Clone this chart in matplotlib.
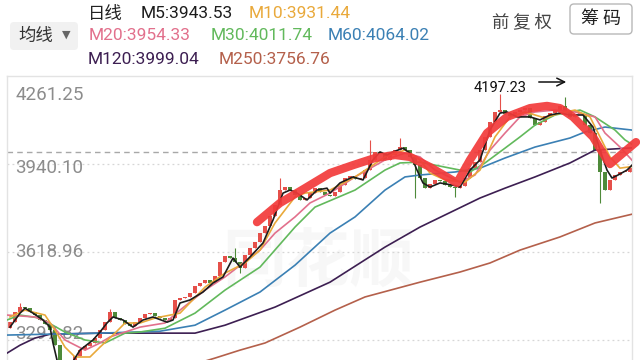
import matplotlib.pyplot as plt
from matplotlib.patches import FancyBboxPatch

plt.rcParams['font.family'] = ['Roboto', 'Noto Sans CJK SC', 'DejaVu Sans']

# daily closes (one per candle)
closes = [3363, 3400, 3418, 3414, 3400, 3389, 3371, 3356, 3334, 3279,
          3217, 3195, 3217, 3239, 3261, 3276, 3287, 3305, 3334, 3363,
          3400, 3378, 3371, 3356, 3349, 3363, 3378, 3392, 3396, 3385,
          3378, 3371, 3378, 3444, 3451, 3455, 3469, 3495, 3506, 3517,
          3506, 3531, 3582, 3604, 3597, 3582, 3560, 3608, 3633, 3655,
          3688, 3714, 3750, 3790, 3845, 3856, 3845, 3827, 3809, 3816,
          3834, 3852, 3838, 3827, 3823, 3838, 3863, 3889, 3896, 3885,
          3889, 3918, 3955, 3984, 3980, 3955, 3973, 3991, 4002, 3991,
          3966, 3936, 3889, 3852, 3867, 3882, 3878, 3863, 3856, 3852,
          3860, 3889, 3925, 3947, 3991, 4039, 4093, 4130, 4137, 4123,
          4115, 4130, 4137, 4144, 4108, 4082, 4093, 4115, 4126, 4137,
          4152, 4130, 4112, 4123, 4123, 4082, 4053, 3991, 3911, 3845,
          3882, 3900, 3911, 3911, 3925]
first_open = 3340
spike_hi = {2: 3433, 20: 3411, 45: 3633, 54: 3889, 72: 4028, 78: 4035,
            98: 4197.23, 111: 4185}
spike_lo = {46: 3542, 81: 3816, 89: 3820, 118: 3798, 119: 3852}

# moving averages, sampled along each line
m5_x = [0, 2, 3, 4.6, 6.6, 8, 8.6, 9.4, 10.4, 12, 14, 16.6, 18, 19.4, 20.6,
        22.6, 24.6, 26.6, 28.6, 31.4, 32.6, 34, 36, 38.6, 40.6, 42.6, 44.6,
        46, 48, 50.6, 52.6, 54.6, 56, 57.4, 59.4, 61.4, 63.4, 64, 66, 68.6,
        70.6, 72.6, 74, 75.4, 76.6, 78.6, 80, 81.4, 82.6, 84, 86, 88.6, 90,
        92, 94, 96, 98, 99.4, 101.4, 104, 106, 108, 110, 112, 114.6, 116.6,
        118, 119.4, 120.4, 121.6, 123.4, 124.4]
m5_v = [3345, 3396, 3414, 3396, 3371, 3345, 3287, 3225, 3195, 3203, 3261,
        3298, 3327, 3360, 3382, 3371, 3345, 3371, 3382, 3363, 3371, 3433,
        3444, 3473, 3506, 3528, 3597, 3564, 3601, 3652, 3736, 3834, 3845,
        3834, 3809, 3845, 3852, 3834, 3871, 3893, 3882, 3955, 3984, 3973,
        3984, 3998, 3980, 3918, 3871, 3856, 3871, 3863, 3856, 3918, 3955,
        4064, 4126, 4130, 4112, 4112, 4101, 4119, 4126, 4119, 4119, 4075,
        3991, 3918, 3889, 3900, 3918, 3936]
m10_x = [0, 3, 7, 9, 11, 13, 16, 18, 21, 23, 26, 29, 34, 39, 43, 47, 50, 53,
         57, 59, 64, 69, 72, 75, 79, 82, 84, 87, 91, 94, 97, 100, 103, 107,
         110, 113, 116, 118, 120, 122, 124.4]
m10_v = [3382, 3407, 3389, 3334, 3272, 3236, 3236, 3272, 3323, 3360, 3360,
         3378, 3396, 3491, 3542, 3579, 3626, 3725, 3820, 3834, 3845, 3893,
         3929, 3966, 3991, 3955, 3907, 3882, 3874, 3918, 4039, 4112, 4130,
         4108, 4126, 4137, 4112, 4039, 3966, 3925, 3931]
m20_x = [-0.6, 5, 8, 11, 15, 18, 20, 23, 26, 31, 34, 39, 43, 50, 53, 57, 60,
         64, 69, 75, 79, 82, 85, 90, 93, 96, 99, 102, 105, 109, 113, 117,
         119, 122, 124.4]
m20_v = [3389, 3382, 3360, 3298, 3261, 3287, 3309, 3327, 3345, 3360, 3407,
         3480, 3528, 3626, 3688, 3747, 3798, 3834, 3893, 3955, 3980, 3966,
         3918, 3874, 3900, 3991, 4053, 4112, 4130, 4137, 4130, 4112, 4053,
         4002, 3954]
m30_x = [-0.6, 2, 6, 11, 15, 19, 23, 26, 31, 37, 43, 50, 57, 61, 69, 75, 78,
         82, 85, 90, 92, 95, 99, 102, 105, 109, 114, 117, 121, 123, 124.4]
m30_v = [3371, 3389, 3378, 3327, 3298, 3287, 3323, 3327, 3341, 3396, 3480,
         3564, 3710, 3783, 3845, 3918, 3944, 3947, 3936, 3918, 3911, 3944,
         3998, 4039, 4082, 4119, 4137, 4112, 4064, 4028, 4012]
m60_x = [-0.6, 18, 30, 37, 43, 50, 57, 64, 69, 75, 79, 82, 89, 94, 99, 105,
         112, 115, 119, 124.4]
m60_v = [3316, 3323, 3330, 3352, 3407, 3473, 3571, 3688, 3747, 3845, 3893,
         3900, 3911, 3925, 3962, 4002, 4035, 4057, 4075, 4064]
m120_x = [-0.6, 2, 5, 8, 18, 30, 37, 43, 53, 64, 75, 82, 94, 99, 105, 112,
          117, 124.4]
m120_v = [3250, 3279, 3305, 3319, 3323, 3323, 3323, 3352, 3418, 3509, 3637,
          3710, 3816, 3852, 3893, 3944, 3991, 3999]
m250_x = [39, 41, 46, 51, 58, 65, 71, 82, 90, 96, 102, 110, 117, 124.4]
m250_v = [3221, 3232, 3261, 3287, 3345, 3407, 3455, 3509, 3546, 3579, 3626,
          3674, 3725, 3757]

ma_names = ['M5', 'M10', 'M20', 'M30', 'M60', 'M120', 'M250']
ma_last = [3943.53, 3931.44, 3954.33, 4011.74, 4064.02, 3999.04, 3756.76]
ma_colors = ['#1c1c1c', '#e9a93b', '#e2708c', '#62b95c', '#3b80b4',
             '#3d1f52', '#b4604b']
ma_lines = [(m5_x, m5_v), (m10_x, m10_v), (m20_x, m20_v), (m30_x, m30_v),
            (m60_x, m60_v), (m120_x, m120_v), (m250_x, m250_v)]

axis_levels = [4261.25, 3940.10, 3618.96, 3297.82]
price_line = 3985

# hand-drawn trend sketch on top
sketch_x = [49.4, 54, 59, 64, 68.6, 73, 77, 80, 84, 89.4, 92, 95.4, 99.4,
            104, 107.4, 110, 112.6, 116.6, 119.4, 120, 125.2]
sketch_v = [3728, 3798, 3852, 3907, 3936, 3962, 3973, 3966, 3929, 3871,
            3955, 4053, 4112, 4144, 4152, 4144, 4112, 4039, 3955, 3940, 4020]
max_idx = 98

fig = plt.figure(figsize=(6.4, 3.6), dpi=100)

# overlay in pixel units for the header
ov = fig.add_axes([0, 0, 1, 1])
ov.set_xlim(0, 640)
ov.set_ylim(360, 0)
ov.axis('off')

ax = fig.add_axes([7 / 640, 0, 625 / 640, 284 / 360])
ax.set_facecolor('none')
ax.set_xlim(-0.6, 124.4)
ax.set_ylim(3225, 4261.25)
ax.set_xticks([])
ax.set_yticks([])
for s in ['top', 'left', 'right']:
    ax.spines[s].set_color('#e3e3e3')
    ax.spines[s].set_linewidth(1)
ax.spines['bottom'].set_visible(False)

for v in axis_levels[1:]:
    ax.axhline(v, color='#d6d6d6', ls=(0, (1.5, 2.5)), lw=0.9, zorder=1)
ax.axhline(price_line, color='#a8a8a8', ls=(0, (4, 3)), lw=1, zorder=1)

label_shift = [-14, -3, 0, 4]
for v, dy in zip(axis_levels, label_shift):
    ax.annotate(f'{v:.2f}', xy=(0, v), xycoords=('axes fraction', 'data'),
                xytext=(6, dy), textcoords='offset points', va='center',
                ha='left', fontsize=13.5, color='#8c8c8c', zorder=1)

ax.text(318, 262, '同花顺', transform=ov.transData, fontsize=46,
        color='#f7f7f7', ha='center', va='center', fontweight='bold',
        family=['Noto Sans CJK SC'], zorder=0)

# candles
opens = [first_open] + closes[:-1]
for i, (o, c) in enumerate(zip(opens, closes)):
    col = '#e5504a' if c >= o else '#4e8a3a'
    hi = max(o, c, spike_hi.get(i, c))
    lo = min(o, c, spike_lo.get(i, c))
    ax.vlines(i, lo, hi, color=col, lw=0.8, zorder=2)
    ax.bar(i, max(abs(c - o), 3), bottom=min(o, c), width=0.75, color=col,
           lw=0, zorder=2)

for (xs, vs), col in list(zip(ma_lines, ma_colors))[::-1]:
    ax.plot(xs, vs, color=col, lw=1.2, zorder=3)

ax.plot(sketch_x, sketch_v, color='#f23a3a', lw=6, alpha=0.92,
        solid_capstyle='round', solid_joinstyle='round', zorder=6,
        clip_on=False)

ax.annotate(f'{spike_hi[max_idx]:.2f}', xy=(max_idx, spike_hi[max_idx]),
            xytext=(0, 4), textcoords='offset points', ha='center',
            va='center', fontsize=10.5, color='#111111', zorder=7)
ov.annotate('', xy=(569, 82), xytext=(536, 82),
            arrowprops=dict(arrowstyle='->', color='#111111', lw=1.1,
                            mutation_scale=14))

# header
ov.add_patch(FancyBboxPatch((10, 22), 68, 28, boxstyle='round,pad=0,rounding_size=4',
                            fc='#f1f1f1', ec='none'))
ov.text(18, 36, '均线', fontsize=12.5, color='#333333', va='center',
        family=['Noto Sans CJK SC'])
ov.text(62, 35, '▼', fontsize=8, color='#666666', va='center',
        family=['DejaVu Sans'])
ov.text(88, 14, '日线', fontsize=12.5, color='#222222', va='center',
        family=['Noto Sans CJK SC'])
header_pos = [(141, 14), (249, 14), (89, 36), (211, 36), (328, 36),
              (88, 60), (219, 60)]
for name, val, col, (hx, hy) in zip(ma_names, ma_last, ma_colors, header_pos):
    ov.text(hx, hy, f'{name}:{val:.2f}', fontsize=12.5, color=col, va='center')

ov.text(522, 22, '前 复 权', fontsize=12.5, color='#444444', ha='center',
        va='center', family=['Noto Sans CJK SC'])
ov.add_patch(FancyBboxPatch((570, 4), 62, 30, boxstyle='round,pad=0,rounding_size=4',
                            fc='white', ec='#b8b8b8', lw=1))
ov.text(601, 19, '筹 码', fontsize=13, color='#222222', ha='center',
        va='center', family=['Noto Sans CJK SC'])

fig.savefig('out.png', dpi=100)
